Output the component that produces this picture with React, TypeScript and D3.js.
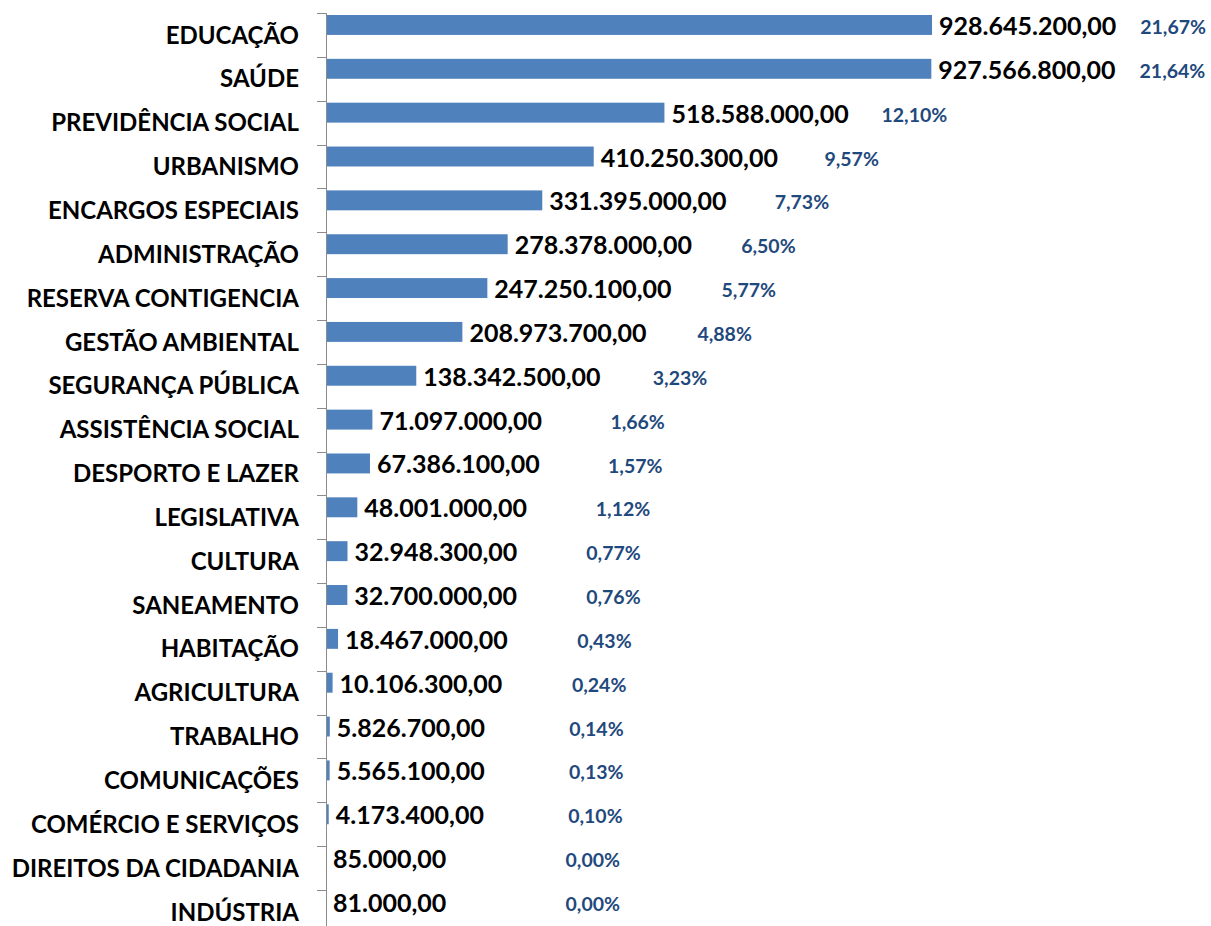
import React from "react";
import * as d3 from "d3";

const categories = [
  "EDUCAÇÃO", "SAÚDE", "PREVIDÊNCIA SOCIAL", "URBANISMO", "ENCARGOS ESPECIAIS",
  "ADMINISTRAÇÃO", "RESERVA CONTIGENCIA", "GESTÃO AMBIENTAL", "SEGURANÇA PÚBLICA",
  "ASSISTÊNCIA SOCIAL", "DESPORTO E LAZER", "LEGISLATIVA", "CULTURA", "SANEAMENTO",
  "HABITAÇÃO", "AGRICULTURA", "TRABALHO", "COMUNICAÇÕES", "COMÉRCIO E SERVIÇOS",
  "DIREITOS DA CIDADANIA", "INDÚSTRIA",
];

const values = [
  928645200, 927566800, 518588000, 410250300, 331395000, 278378000, 247250100,
  208973700, 138342500, 71097000, 67386100, 48001000, 32948300, 32700000,
  18467000, 10106300, 5826700, 5565100, 4173400, 85000, 81000,
];

const percents = [
  21.67, 21.64, 12.1, 9.57, 7.73, 6.5, 5.77, 4.88, 3.23, 1.66, 1.57, 1.12,
  0.77, 0.76, 0.43, 0.24, 0.14, 0.13, 0.1, 0.0, 0.0,
];

const seriesKeys = ["valor", "percentual"];

const W = 1211;
const H = 926;
const axisX = 326;
const top = 13;
const step = 43.85;
const FONT = "Lato, 'Noto Sans', sans-serif";

const loc = d3.formatLocale({ decimal: ",", thousands: ".", grouping: [3], currency: ["R$", ""] });
const fmtValue = loc.format(",.2f");
const fmtPct = loc.format(".2f");

export default function App() {
  const x = d3.scaleLinear().domain([0, 1e9]).range([axisX, axisX + 652.6]);
  const y = d3
    .scaleBand<string>()
    .domain(categories)
    .range([top, top + step * categories.length])
    .paddingInner(0)
    .paddingOuter(0);
  const inner = d3
    .scaleBand<string>()
    .domain(seriesKeys)
    .range([0, y.bandwidth()])
    .paddingInner(0)
    .paddingOuter(0.1);
  const maxV = d3.max(values) as number;

  const valSize = 25;
  const catSize = 24;
  const pctSize = 19.5;

  return (
    <svg
      width={W}
      height={H}
      style={{ position: "absolute", left: 0, top: 0, background: "#fff" }}
      fontFamily={FONT}
      fontWeight="bold"
    >
      <rect x={0} y={0} width={W} height={H} fill="#fff" />
      {d3.range(categories.length + 1).map((i) => {
        const ty = Math.round(top + i * step) + 0.5;
        return <line key={"t" + i} x1={317} x2={axisX} y1={ty} y2={ty} stroke="#8c8c8c" strokeWidth={1} />;
      })}
      {categories.map((c, i) => {
        const v = values[i];
        const b0 = y(c) as number;
        const by = b0 + (inner("valor") as number);
        const bh = inner.bandwidth();
        const bx = x(v);
        const valCenter = by + bh / 2 + 1;
        const catCenter = b0 + y.bandwidth() / 2;
        const pctRight = Math.min(bx + 294 - (20 * v) / maxV, 1207);
        const pctCenter = b0 + 14;
        return (
          <g key={c}>
            <rect x={axisX} y={by} width={Math.max(0, bx - axisX)} height={bh} fill="#4F81BD" />
            <text
              x={299}
              y={catCenter + catSize * 0.36}
              textAnchor="end"
              fontSize={catSize}
              fill="#000"
            >
              {c}
            </text>
            <text x={bx + 7} y={valCenter + valSize * 0.36} fontSize={valSize} fill="#000">
              {fmtValue(v)}
            </text>
            <text
              x={pctRight}
              y={pctCenter + pctSize * 0.36}
              textAnchor="end"
              fontSize={pctSize}
              fill="#1F497D"
            >
              {fmtPct(percents[i]) + "%"}
            </text>
          </g>
        );
      })}
      <line x1={axisX + 0.5} x2={axisX + 0.5} y1={top} y2={H} stroke="#8c8c8c" strokeWidth={1} />
    </svg>
  );
}
